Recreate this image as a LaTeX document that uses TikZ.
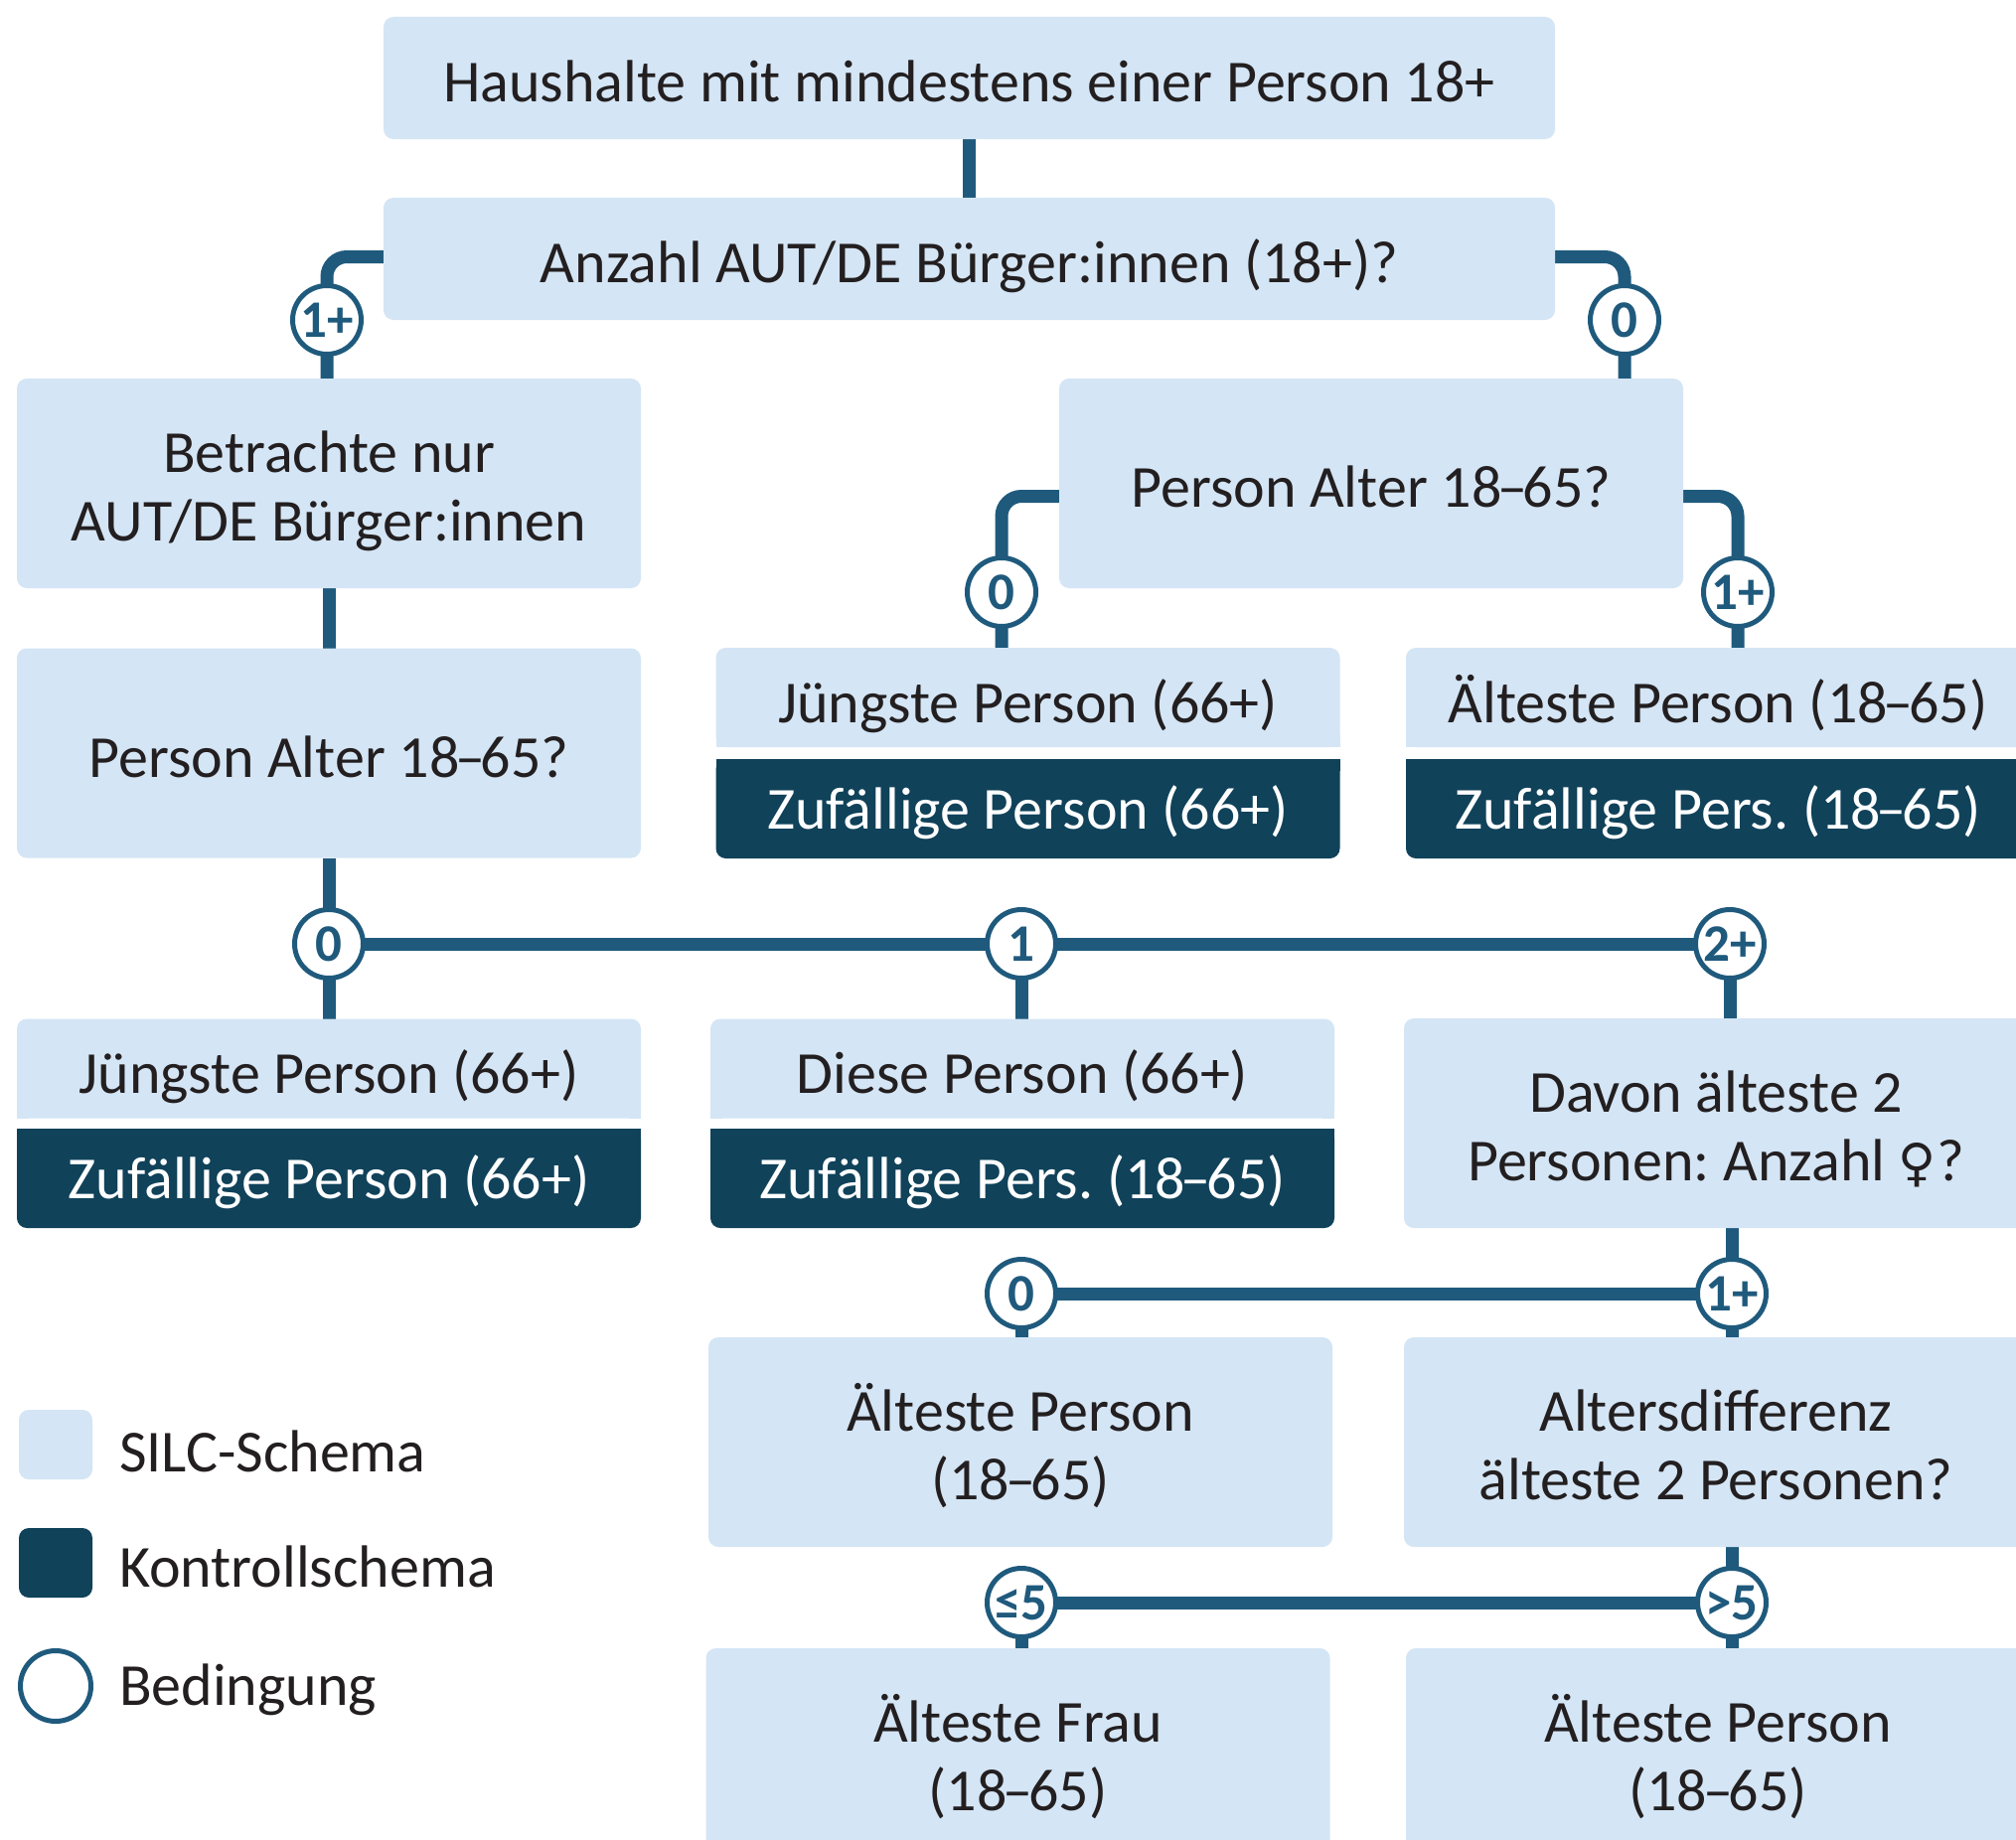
\documentclass[tikz,border=0pt]{standalone}
\usepackage{fontspec}
\setmainfont{Carlito}
\newfontfamily\symfont{DejaVu Sans}
\usetikzlibrary{backgrounds}
\definecolor{lightc}{HTML}{D4E5F5}
\definecolor{darkc}{HTML}{10425A}
\definecolor{linec}{HTML}{1F5A7D}
\definecolor{txtc}{HTML}{231F20}
\frenchspacing
\newcommand\nd{\kern-.07em–\kern-.07em}
\newcommand\sqcorners[2]{%
  \fill[lightc] (#1.south west) rectangle ++(12,-12);
  \fill[lightc] (#1.south east) rectangle ++(-12,-12);
  \fill[darkc] (#2.north west) rectangle ++(12,12);
  \fill[darkc] (#2.north east) rectangle ++(-12,12);}
\newcommand\twolines[3]{%
  \node[tline] (#1l1) at ([yshift=11pt]#1.center) {#2};
  \node[tline] (#1l2) at ([yshift=-58pt]#1.center) {#3};}
\begin{document}
\begin{tikzpicture}[x=1pt,y=-1pt,
  base/.style={inner sep=0pt, outer sep=0pt, text=txtc, font=\fontsize{60pt}{69pt}\selectfont},
  lbox/.style={base, fill=lightc, rounded corners=10pt, minimum width=628pt, minimum height=211pt, text height=48pt, text depth=0pt},
  widebox/.style={lbox, minimum width=1179pt, minimum height=123pt},
  ltop/.style={lbox, minimum height=100pt, text height=50pt},
  dbot/.style={lbox, fill=darkc, text=white, minimum height=100pt, text height=40pt},
  tline/.style={base, anchor=base},
  cond/.style={circle, draw=linec, line width=5pt, fill=white, minimum size=69pt, inner sep=0pt, text=linec, font=\bfseries\fontsize{53pt}{53pt}\selectfont},
  conn/.style={draw=linec, line width=13pt},
  legtext/.style={base, anchor=base west}]
\useasboundingbox (0,0) rectangle (2029,1852);
\begin{scope}[on background layer]
\fill[white] (0,0) rectangle (2029,1852);
\end{scope}
\clip (0,0) rectangle (2029,1852);

% boxes
\node[widebox] (b1) at (975.5,78.5) {Haushalte mit mindestens einer Person 18+};
\node[widebox] (b2) at (975.5,260.5) {Anzahl AUT/DE Bürger:innen (18+)?};
\node[lbox] (b3) at (331,486.5) {};
\twolines{b3}{Betrachte nur}{AUT/DE Bürger:innen}
\node[lbox] (b4) at (1380,486.5) {Person Alter 18\nd65?};
\node[lbox] (b5) at (331,758) {Person Alter 18\nd65?};
\node[ltop] (b6a) at (1034.5,702) {Jüngste Person (66+)};
\node[dbot] (b6b) at (1034.5,814) {Zufällige Person (66+)};
\sqcorners{b6a}{b6b}
\node[ltop] (b7a) at (1729,702) {Älteste Person (18\nd65)};
\node[dbot] (b7b) at (1729,814) {Zufällige Pers. (18\nd65)};
\sqcorners{b7a}{b7b}
\node[ltop] (b8a) at (331,1075.5) {Jüngste Person (66+)};
\node[dbot] (b8b) at (331,1186) {Zufällige Person (66+)};
\sqcorners{b8a}{b8b}
\node[ltop] (b9a) at (1029,1075.5) {Diese Person (66+)};
\node[dbot] (b9b) at (1029,1186) {Zufällige Pers. (18\nd65)};
\sqcorners{b9a}{b9b}
\node[lbox] (b10) at (1727,1130.5) {};
\twolines{b10}{Davon älteste 2}{Personen: Anzahl {\symfont\fontsize{52pt}{60pt}\selectfont ♀}?}
\node[lbox] (b11) at (1027,1451.5) {};
\twolines{b11}{Älteste Person}{(18\nd65)}
\node[lbox] (b12) at (1727,1451.5) {};
\twolines{b12}{Altersdifferenz}{älteste 2 Personen?}
\node[lbox] (b13) at (1024.5,1764.5) {};
\twolines{b13}{Älteste Frau}{(18\nd65)}
\node[lbox] (b14) at (1729,1764.5) {};
\twolines{b14}{Älteste Person}{(18\nd65)}

% conditions
\node[cond] (c1) at (329,322) {1+};
\node[cond] (c2) at (1635,322) {0};
\node[cond] (c3) at (1008,596) {0};
\node[cond] (c4) at (1749,596) {1+};
\node[cond] (r1) at (331,950) {0};
\node[cond] (r2) at (1028,950) {1};
\node[cond] (r3) at (1741,950) {2+};
\node[cond] (r4) at (1028,1302) {0};
\node[cond] (r5) at (1743,1302) {1+};
\node[cond] (r6) at (1028,1613) {≤5};
\node[cond] (r7) at (1743,1613) {>5};

% legend
\node[base, fill=lightc, rounded corners=10pt, minimum width=74pt, minimum height=70pt] (lg1) at (56,1454) {};
\node[legtext] (lg1t) at ([xshift=64pt,yshift=-27pt]lg1.center) {SILC-Schema};
\node[base, fill=darkc, rounded corners=10pt, minimum width=74pt, minimum height=70pt] (lg2) at (56,1573) {};
\node[legtext] (lg2t) at ([xshift=64pt,yshift=-24pt]lg2.center) {Kontrollschema};
\node[cond, minimum size=71pt] (lg3) at (56,1697) {};
\node[legtext] (lg3t) at ([xshift=64pt,yshift=-19pt]lg3.center) {Bedingung};

% connectors
\begin{scope}[on background layer]
\draw[conn] (b1.south) -- (b2.north);
\draw[conn, rounded corners=20pt] ([yshift=2pt]b2.west) -| (c1.center) -- (c1 |- b3.north);
\draw[conn, rounded corners=20pt] ([yshift=2pt]b2.east) -| (c2.center) -- (c2 |- b4.north);
\draw[conn] (b3.south) -- (b5.north);
\draw[conn, rounded corners=20pt] ([yshift=-13pt]b4.west) -| (c3.center) -- (c3 |- b6a.north);
\draw[conn, rounded corners=20pt] ([yshift=-13pt]b4.east) -| (c4.center) -- (c4 |- b7a.north);
\draw[conn] (b5.south) -- (r1.center);
\draw[conn] (r1.center) -- (r2.center) -- (r3.center);
\draw[conn] (r1.center) -- (r1 |- b8a.north);
\draw[conn] (r2.center) -- (r2 |- b9a.north);
\draw[conn] (r3.center) -- (r3 |- b10.north);
\draw[conn] (r5 |- b10.south) -- (r5.center);
\draw[conn] (r4.center) -- (r5.center);
\draw[conn] (r4.center) -- (r4 |- b11.north);
\draw[conn] (r5.center) -- (r5 |- b12.north);
\draw[conn] (r7 |- b12.south) -- (r7.center);
\draw[conn] (r6.center) -- (r7.center);
\draw[conn] (r6.center) -- (r6 |- b13.north);
\draw[conn] (r7.center) -- (r7 |- b14.north);
\end{scope}
\end{tikzpicture}
\end{document}
